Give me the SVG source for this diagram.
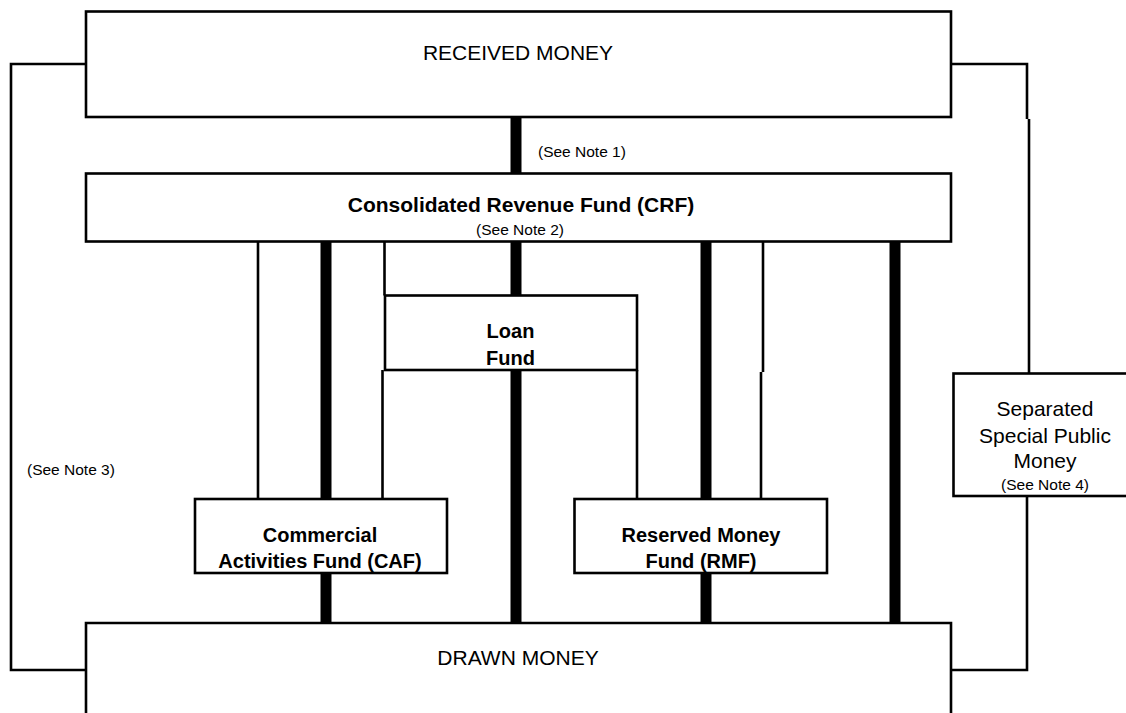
<svg xmlns="http://www.w3.org/2000/svg" width="1126" height="713" viewBox="0 0 1126 713">
<style>
.box{fill:#fff;stroke:#000;stroke-width:2.6}
.thin{fill:none;stroke:#000;stroke-width:2.6}
.thick{fill:none;stroke:#000;stroke-width:11}
text{font-family:"Liberation Sans",Arial,sans-serif;fill:#000}
.big{font-size:21px}
.bold{font-size:20px;font-weight:bold}
.crf{font-size:21px;font-weight:bold}
.note{font-size:15.5px}
.c{text-anchor:middle}
</style>
<rect width="1126" height="713" fill="#fff"/>
<g id="connectors">
  <path class="thin" d="M86,64 H11 V670 H86"/>
  <path class="thin" d="M951,64 H1027 V119"/>
  <path class="thin" d="M1029,119 V373.5"/>
  <path class="thin" d="M1027,496 V670 H951"/>
  <path class="thick" d="M516,117 V173.5"/>
  <path class="thick" d="M516,241.5 V295.5"/>
  <path class="thick" d="M516,370 V623"/>
  <path class="thick" d="M326,241.5 V499"/>
  <path class="thick" d="M326,573 V623"/>
  <path class="thick" d="M706,241.5 V499"/>
  <path class="thick" d="M706,573 V623"/>
  <path class="thick" d="M895,241.5 V623"/>
  <path class="thin" d="M258,241.5 V499"/>
  <path class="thin" d="M384.5,241.5 V295.5"/>
  <path class="thin" d="M382.5,370 V499"/>
  <path class="thin" d="M637,370 V499"/>
  <path class="thin" d="M763,241.5 V372"/>
  <path class="thin" d="M761,372 V499"/>
</g>
<g id="received">
  <rect class="box" x="86" y="11.5" width="865" height="105.5"/>
  <text class="big c" x="518" y="60">RECEIVED MONEY</text>
</g>
<g id="note1">
  <text class="note" x="538" y="157">(See Note 1)</text>
</g>
<g id="crf">
  <rect class="box" x="86" y="173.5" width="865" height="68"/>
  <text class="crf c" x="521" y="212">Consolidated Revenue Fund (CRF)</text>
  <text class="note c" x="520" y="235">(See Note 2)</text>
</g>
<g id="loan">
  <rect class="box" x="385" y="295.5" width="252" height="74.5"/>
  <text class="bold c" x="510.5" y="338">Loan</text>
  <text class="bold c" x="510.5" y="365">Fund</text>
</g>
<g id="caf">
  <rect class="box" x="195" y="499" width="252" height="74"/>
  <text class="bold c" x="320" y="542">Commercial</text>
  <text class="bold c" x="320" y="568">Activities Fund (CAF)</text>
</g>
<g id="rmf">
  <rect class="box" x="574.5" y="499" width="252.5" height="74"/>
  <text class="bold c" x="701" y="542">Reserved Money</text>
  <text class="bold c" x="701" y="568">Fund (RMF)</text>
</g>
<g id="sspm">
  <rect class="box" x="953.5" y="373.5" width="200" height="122.5"/>
  <text class="big c" x="1045" y="416">Separated</text>
  <text class="big c" x="1045" y="443">Special Public</text>
  <text class="big c" x="1045" y="468">Money</text>
  <text class="note c" x="1045" y="490">(See Note 4)</text>
</g>
<g id="note3">
  <text class="note" x="27" y="475">(See Note 3)</text>
</g>
<g id="drawn">
  <path class="box" d="M86,714 V623 H951 V714"/>
  <text class="big c" x="518" y="665">DRAWN MONEY</text>
</g>
</svg>
